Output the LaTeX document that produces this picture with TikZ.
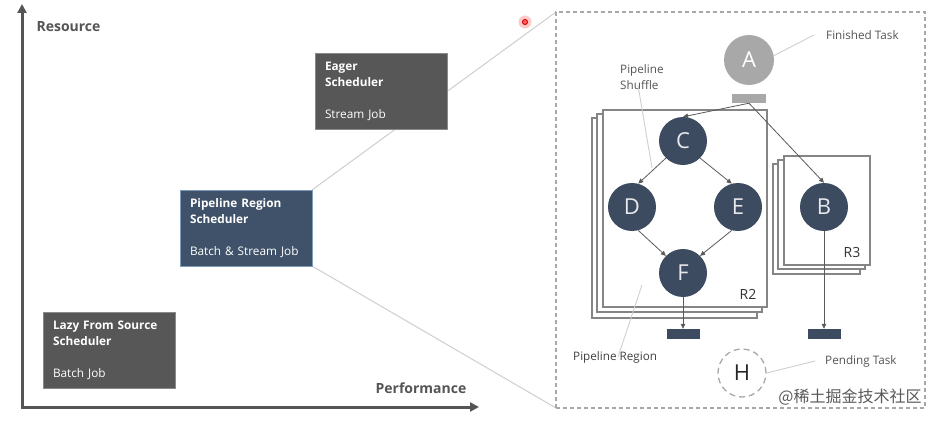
\documentclass[tikz,border=0pt]{standalone}
\usepackage{fontspec}
\setmainfont{Open Sans}
\newfontfamily\cjk{Noto Sans CJK SC}
\usetikzlibrary{arrows.meta}
\pgfdeclarelayer{background}
\pgfdeclarelayer{canvas}
\pgfsetlayers{canvas,background,main}
\definecolor{axisgray}{HTML}{555555}
\definecolor{boxgray}{HTML}{575757}
\definecolor{boxgrayedge}{HTML}{8A8A8A}
\definecolor{boxblue}{HTML}{3F5269}
\definecolor{boxblueedge}{HTML}{7D9BBB}
\definecolor{nodeblue}{HTML}{3C4B5F}
\definecolor{zoomline}{HTML}{CFCFCF}
\definecolor{stackgray}{HTML}{858585}
\definecolor{agray}{HTML}{A8A8A8}
\definecolor{txtgray}{HTML}{555555}
\definecolor{arrowgray}{HTML}{5A5A5A}
\tikzset{
  axis/.style={line width=3pt, draw=axisgray, {Triangle[length=9pt,width=9pt]}-{Triangle[length=9pt,width=9pt]}, line join=miter},
  axislabel/.style={font=\fontsize{14}{16}\selectfont\bfseries, text=txtgray},
  schedbox/.style={rectangle, minimum width=132pt, minimum height=76pt, text width=112pt, align=left, inner sep=0pt, outer sep=0pt, line width=0.8pt, text=white, font=\fontsize{11.8}{16}\selectfont},
  zoomray/.style={draw=zoomline, line width=1pt},
  zoomframe/.style={rectangle, draw=agray, line width=1.2pt, dash pattern=on 4pt off 3pt, minimum width=369pt, minimum height=396pt, inner sep=0pt, outer sep=0pt},
  sheet/.style={rectangle, draw=stackgray, fill=white, line width=1.2pt, inner sep=0pt, outer sep=0pt},
  task/.style={circle, fill=nodeblue, minimum size=48pt, inner sep=0pt, text=white!88!nodeblue, font=\fontsize{22}{22}\selectfont},
  flow/.style={draw=arrowgray, line width=0.8pt, -{Triangle[length=5pt,width=4.5pt]}},
  resbar/.style={rectangle, fill=nodeblue, minimum width=33pt, minimum height=10pt, inner sep=0pt},
  pointer/.style={draw=zoomline, line width=0.9pt},
  smalllabel/.style={font=\fontsize{11.7}{16}\selectfont, text=txtgray, align=left, inner sep=0pt},
  regionlabel/.style={font=\fontsize{11.7}{13}\selectfont, text=black!80, inner sep=0pt},
  regiontag/.style={font=\fontsize{14}{14}\selectfont, text=black!80, inner sep=0pt}
}
\begin{document}
\begin{tikzpicture}[x=1pt,y=-1pt]
\useasboundingbox (0,0) rectangle (944,422);
\begin{pgfonlayer}{canvas}
\fill[white] (0,0) rectangle (944,422);
\end{pgfonlayer}

% axes
\coordinate (ytip) at (22,4);
\coordinate (origin) at (22,407);
\coordinate (xtip) at (479,407);
\draw[axis] (ytip) -- (origin) -- (xtip);
\node[axislabel, anchor=west] (reslabel) at (33,27) {Resource};
\node[axislabel] (perflabel) at (421,388) {Performance};

% scheduler boxes
\node[schedbox, fill=boxgray, draw=boxgrayedge] (eager) at (381,91)
  {\textbf{Eager}\\\textbf{Scheduler}\\[16pt]Stream Job};
\node[schedbox, fill=boxblue, draw=boxblueedge] (pipe) at (246,228)
  {\textbf{Pipeline Region}\\\textbf{Scheduler}\\[16pt]Batch \& Stream Job};
\node[schedbox, fill=boxgray, draw=boxgrayedge] (lazy) at (109,350)
  {\textbf{Lazy From Source}\\\textbf{Scheduler}\\[16pt]Batch Job};

% zoom frame
\node[zoomframe] (zoom) at (740.5,210) {};
\begin{pgfonlayer}{background}
\draw[zoomray] (pipe.north east) -- (zoom.north west);
\draw[zoomray] (pipe.south east) -- (zoom.south west);
\end{pgfonlayer}

% cursor mark
\node[circle, fill=red!35, opacity=0.6, minimum size=13pt, inner sep=0pt] (cursorhalo) at (525,22) {};
\node[circle, draw=red!85!black, fill=red!60, line width=1pt, minimum size=5pt, inner sep=0pt] (cursor) at (525,22) {};

% region R2 stack
\node[sheet, minimum width=165pt, minimum height=200pt] (r2c) at (674.5,218) {};
\node[sheet, minimum width=165pt, minimum height=198pt] (r2b) at (679.5,213) {};
\node[sheet, minimum width=164pt, minimum height=197pt] (r2a) at (685,208.5) {};
\node[regiontag] (r2lab) at (748,294) {R2};

% region R3 stack
\node[sheet, minimum width=87pt, minimum height=110pt] (r3c) at (816.5,219) {};
\node[sheet, minimum width=87pt, minimum height=109pt] (r3b) at (821.5,214.5) {};
\node[sheet, minimum width=86pt, minimum height=109pt] (r3a) at (827,210.5) {};
\node[regiontag] (r3lab) at (852,252) {R3};

% tasks
\node[circle, fill=agray, minimum size=50pt, inner sep=0pt, text=white, font=\fontsize{22}{22}\selectfont] (A) at (749,60) {A};
\node[rectangle, fill=agray, minimum width=34pt, minimum height=9pt, inner sep=0pt] (abar) at (749,98.5) {};
\node[task] (C) at (683,141) {C};
\node[task] (D) at (632,207) {D};
\node[task] (E) at (738,207) {E};
\node[task] (F) at (683,273) {F};
\node[task] (B) at (824,207) {B};
\node[resbar] (fbar) at (683,334) {};
\node[resbar] (bbar) at (824,334) {};
\node[circle, draw=agray, line width=1.3pt, dash pattern=on 6pt off 4pt, minimum size=48pt, inner sep=0pt, text=black!85, font=\fontsize{22}{22}\selectfont] (H) at (742,373) {H};

% flows
\draw[flow] (abar.south) -- (C.north);
\draw[flow] (abar.south) -- (B.north);
\draw[flow] (C.225) -- (D.75);
\draw[flow] (C.-45) -- (E.105);
\draw[flow] (D.-75) -- (F.135);
\draw[flow] (E.-105) -- (F.45);
\draw[flow] (F.south) -- (fbar.north);
\draw[flow] (B.south) -- (bbar.north);

% labels with pointers
\node[smalllabel, anchor=west] (fin) at (826,35) {Finished Task};
\draw[pointer] (A.10) -- ([xshift=-12pt]fin.west);
\node[smalllabel, anchor=north west] (shuf) at (620,64) {Pipeline\\Shuffle};
\coordinate (shufend) at (652,168);
\draw[pointer] ([xshift=18pt,yshift=4pt]shuf.south west) -- (shufend);
\node[regionlabel, anchor=west, text=black!75] (plab) at (573,357) {Pipeline Region};
\coordinate (plabend) at (642,285);
\draw[pointer] ([xshift=45pt,yshift=-6pt]plab.north west) -- (plabend);
\node[smalllabel, anchor=west] (pend) at (825,361) {Pending Task};
\draw[pointer] (H.east) -- ([xshift=-10pt]pend.west);

% watermark
\node[font=\cjk\fontsize{16}{16}\selectfont, text=black!65, inner sep=0pt] (wm) at (850,397) {@稀土掘金技术社区};
\end{tikzpicture}
\end{document}
